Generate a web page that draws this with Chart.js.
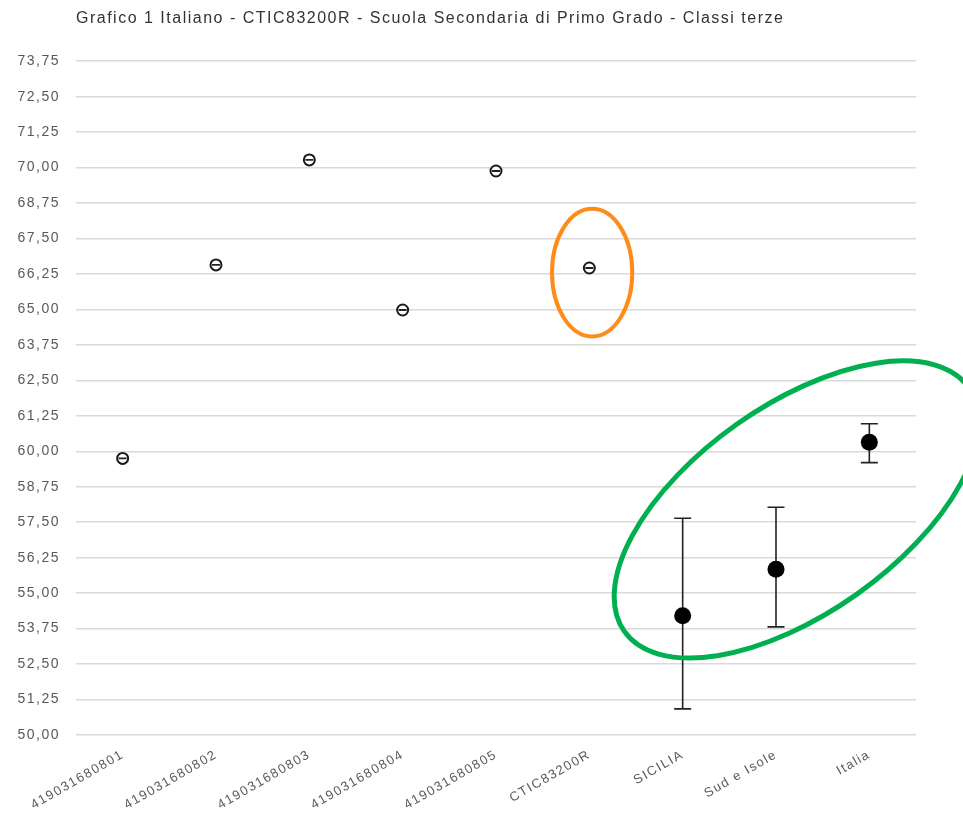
<!DOCTYPE html>
<html>
<head>
<meta charset="utf-8">
<script src="https://cdn.jsdelivr.net/npm/chart.js@4/dist/chart.umd.min.js"></script>
<style>
  html, body { margin: 0; padding: 0; background: #fff; }
  #wrap { width: 963px; height: 828px; }
</style>
</head>
<body>
<div id="wrap"><canvas id="grafico"></canvas></div>
<script>
"use strict";

// Categories and values
var categories = ["419031680801", "419031680802", "419031680803", "419031680804", "419031680805",
                  "CTIC83200R", "SICILIA", "Sud e Isole", "Italia"];
var means = [59.75, 66.57, 70.27, 64.98, 69.88, 66.46, 54.20, 55.84, 60.32];
var lowerBound = [59.75, 66.57, 70.27, 64.98, 69.88, 66.46, 50.92, 53.81, 59.60];
var upperBound = [59.75, 66.57, 70.27, 64.98, 69.88, 66.46, 57.64, 58.03, 60.97];
var yTicks = { min: 50, max: 73.75, step: 1.25 };

// Reference points (the last three) get big dots
function isReference(i) { return i >= 6; }

// Letter spacing on the whole canvas text
var spacingPlugin = {
    id: "spacing",
    beforeLayout: function(chart) { chart.ctx.letterSpacing = "1.5px"; },
    beforeDraw: function(chart) { chart.ctx.letterSpacing = "1.5px"; }
};

// Draws error bars for the points where wanted(i) is true
function drawBars(chart, wanted) {
    var ctx = chart.ctx;
    var x = chart.scales.x, y = chart.scales.y;
    ctx.save();
    ctx.strokeStyle = "#222";
    for (var i = 0; i < means.length; i++) {
        if (!wanted(i)) continue;
        var px = x.getPixelForValue(i);
        var top = y.getPixelForValue(upperBound[i]);
        var bot = y.getPixelForValue(lowerBound[i]);
        var half = isReference(i) ? 8.5 : 4;
        ctx.lineWidth = isReference(i) ? 1.6 : 1.8;
        ctx.beginPath();
        ctx.moveTo(px, top); ctx.lineTo(px, bot);
        ctx.moveTo(px - half, top); ctx.lineTo(px + half, top);
        ctx.moveTo(px - half, bot); ctx.lineTo(px + half, bot);
        ctx.stroke();
    }
    ctx.restore();
}

// Big dots sit on top of their bars, small markers get the line on top
var errorBarPlugin = {
    id: "errorBars",
    beforeDatasetsDraw: function(chart) { drawBars(chart, isReference); },
    afterDatasetsDraw: function(chart) { drawBars(chart, function(i) { return !isReference(i); }); }
};

// Orange and green ellipses placed on the scales
var ellipsePlugin = {
    id: "ellipses",
    afterDraw: function(chart) {
        var ctx = chart.ctx;
        var x = chart.scales.x, y = chart.scales.y;
        var step = x.getPixelForValue(1) - x.getPixelForValue(0);
        ctx.save();
        ctx.lineWidth = 4;
        ctx.strokeStyle = "#ff8c1a";
        ctx.beginPath();
        ctx.ellipse(x.getPixelForValue(5) + 0.03 * step, y.getPixelForValue(66.3),
                    0.43 * step, Math.abs(y.getPixelForValue(68.55) - y.getPixelForValue(66.3)), 0, 0, 2 * Math.PI);
        ctx.stroke();
        ctx.lineWidth = 5;
        ctx.strokeStyle = "#00b050";
        ctx.beginPath();
        ctx.ellipse(x.getPixelForValue(7) + 0.22 * step, y.getPixelForValue(57.95),
                    2.26 * step, 1.115 * step, -35.3 * Math.PI / 180, 0, 2 * Math.PI);
        ctx.stroke();
        ctx.restore();
    }
};

function init() {
    var ctx = document.getElementById("grafico");
    new Chart(ctx, {
        type: "line",
        data: {
            labels: categories,
            datasets: [{
                label: "Punteggio medio",
                data: means,
                showLine: false,
                pointRadius: function(c) { return isReference(c.dataIndex) ? 8.5 : 5.5; },
                pointBackgroundColor: function(c) { return isReference(c.dataIndex) ? "#000" : "#fff"; },
                pointBorderColor: function(c) { return isReference(c.dataIndex) ? "#000" : "#1a1a1a"; },
                pointBorderWidth: function(c) { return isReference(c.dataIndex) ? 0 : 2; }
            }]
        },
        options: {
            responsive: true,
            maintainAspectRatio: false,
            animation: false,
            layout: { padding: { left: 0, right: 47, top: 0, bottom: 0 } },
            plugins: {
                legend: { display: false },
                tooltip: { enabled: false },
                title: {
                    display: true,
                    text: "Grafico 1 Italiano - CTIC83200R - Scuola Secondaria di Primo Grado - Classi terze",
                    align: "start",
                    fullSize: false,
                    color: "#333333",
                    font: { family: "Liberation Sans", size: 16, weight: "normal" },
                    padding: { top: 9, bottom: 33 }
                }
            },
            scales: {
                x: {
                    offset: true,
                    grid: { display: false },
                    border: { display: false },
                    ticks: {
                        color: "#595959",
                        font: { family: "Liberation Sans", size: 13 },
                        minRotation: 30,
                        maxRotation: 30,
                        padding: 4
                    },
                    afterFit: function(s) { s.height = 93; }
                },
                y: {
                    min: yTicks.min,
                    max: yTicks.max,
                    grid: { color: "#d9d9d9", lineWidth: 1.5, drawTicks: false },
                    border: { display: false },
                    ticks: {
                        stepSize: yTicks.step,
                        color: "#595959",
                        padding: 16,
                        font: { family: "Liberation Sans", size: 14 },
                        callback: function(v) { return v.toFixed(2).replace(".", ","); }
                    },
                    afterFit: function(s) { s.width = 76; }
                }
            }
        },
        plugins: [spacingPlugin, errorBarPlugin, ellipsePlugin]
    });
}

window.onload = init;
</script>
</body>
</html>
